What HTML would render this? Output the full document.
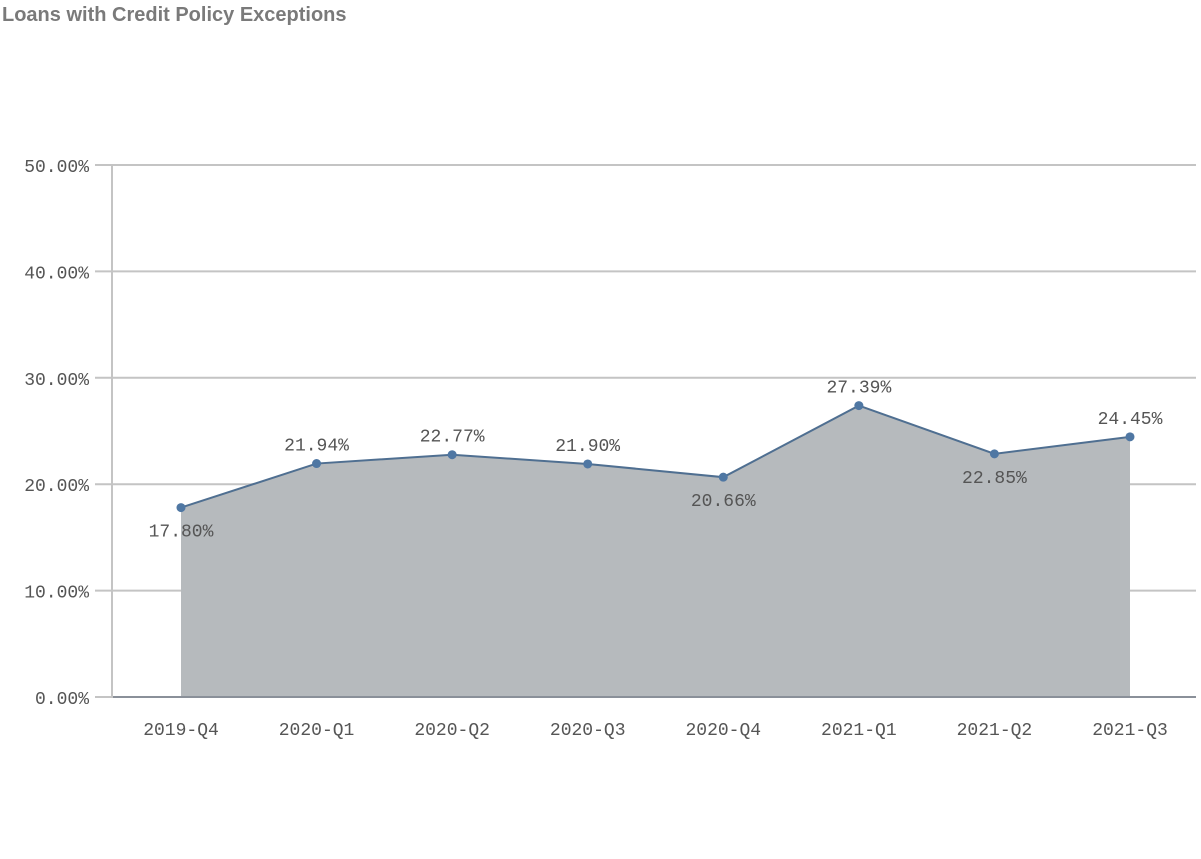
<!DOCTYPE html>
<html><head><meta charset="utf-8"><style>
body{margin:0;background:#fff;width:1201px;height:859px;overflow:hidden}
svg{display:block}
</style></head><body>
<svg width="1201" height="859">
<text x="2" y="21" font-family="Liberation Sans, sans-serif" font-weight="bold" font-size="20" fill="#7a7a7a">Loans with Credit Policy Exceptions</text>
<g id="grid"></g>
<g id="area"></g>
<g id="axes"></g>
<g id="labels"></g>
</svg>
<script>
const categories=["2019-Q4","2020-Q1","2020-Q2","2020-Q3","2020-Q4","2021-Q1","2021-Q2","2021-Q3"];
const values=[17.80,21.94,22.77,21.90,20.66,27.39,22.85,24.45];
const labelBelow=[true,false,false,false,true,false,true,false];
const yTicks=[0,10,20,30,40,50];
const yTickLabels=["0.00%","10.00%","20.00%","30.00%","40.00%","50.00%"];
const NS="http://www.w3.org/2000/svg";
const y=v=>697-v*(532/50);
const x=i=>181+i*(949/7);
function mk(tag,attrs,parent){const e=document.createElementNS(NS,tag);for(const k in attrs)e.setAttribute(k,attrs[k]);document.getElementById(parent).appendChild(e);return e;}
yTicks.forEach((t,i)=>{
 const l=mk('line',{x1:95,x2:1196,y1:y(t),y2:y(t),stroke:'#c4c4c4','stroke-width':2},'grid');
 
 
 const tx=mk('text',{x:89,y:y(t)+7,'text-anchor':'end','font-family':'Liberation Mono, monospace','font-size':18,fill:'#555'},'axes');
 tx.textContent=yTickLabels[i];
 
 
});
const ax=mk('line',{x1:112,x2:112,y1:y(50),y2:y(0)+1,stroke:'#c4c4c4','stroke-width':2},'axes');


let pts=values.map((v,i)=>x(i)+','+y(v)).join(' ');
const poly=mk('polygon',{points:x(0)+','+y(0)+' '+pts+' '+x(values.length-1)+','+y(0),fill:'#b6babd'},'area');


const bl=mk('line',{x1:112,x2:1196,y1:y(0),y2:y(0),stroke:'#8a9099','stroke-width':2},'area');


const pl=mk('polyline',{points:pts,fill:'none',stroke:'#4f6f91','stroke-width':2},'area');


values.forEach((v,i)=>{
 const c=mk('circle',{cx:x(i),cy:y(v),r:4.5,fill:'#4f77a3'},'labels');
 
 
 const t=mk('text',{x:x(i),y:labelBelow[i]?y(v)+29:y(v)-13,'text-anchor':'middle','font-family':'Liberation Mono, monospace','font-size':18,fill:'#555'},'labels');
 t.textContent=v.toFixed(2)+'%';
 
 
 const c2=mk('text',{x:x(i),y:735,'text-anchor':'middle','font-family':'Liberation Mono, monospace','font-size':18,fill:'#555'},'axes');
 c2.textContent=categories[i];
 
 
});
</script>
</body></html>
